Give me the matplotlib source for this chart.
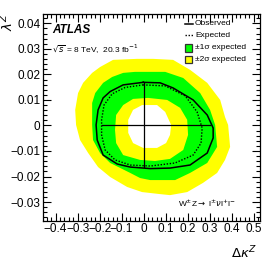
import matplotlib
matplotlib.use("Agg")
import matplotlib.pyplot as plt
from matplotlib.patches import Polygon, Rectangle
from matplotlib.ticker import MultipleLocator, FuncFormatter

plt.rcParams['font.family'] = ['Liberation Sans', 'DejaVu Sans']

# contours (delta kappa Z, lambda Z)
yellow_out_x = [-0.139, -0.030, 0.043, 0.134, 0.211, 0.289, 0.348, 0.370, 0.384, 0.393, 0.370, 0.334,
                0.270, 0.198, 0.120, 0.075, -0.007, -0.075, -0.152, -0.207, -0.252, -0.289, -0.307,
                -0.311, -0.298, -0.275, -0.234, -0.198]
yellow_out_y = [0.0257, 0.0261, 0.0261, 0.0257, 0.0218, 0.0167, 0.0100, 0.0033, 0.0002, -0.0084, -0.0135,
                -0.0186, -0.0225, -0.0261, -0.0273, -0.0269, -0.0261, -0.0241, -0.0202, -0.0163, -0.0108,
                -0.0057, 0.0002, 0.0061, 0.0127, 0.0167, 0.0206, 0.0229]

green_out_x = [-0.093, -0.039, 0.098, 0.180, 0.257, 0.302, 0.325, 0.334, 0.289, 0.211, 0.143, 0.030,
               -0.016, -0.061, -0.152, -0.198, -0.230, -0.234, -0.234, -0.220, -0.184, -0.143]
green_out_y = [0.0206, 0.0210, 0.0210, 0.0186, 0.0127, 0.0061, 0.0002, -0.0084, -0.0147, -0.0186, -0.0214,
               -0.0214, -0.0206, -0.0186, -0.0147, -0.0108, -0.0057, 0.0002, 0.0088, 0.0127, 0.0167, 0.0190]

green_in_x = [-0.093, -0.048, 0.020, 0.107, 0.166, 0.198, 0.202, 0.180, 0.120, 0.052, -0.016, -0.093,
              -0.125, -0.130, -0.125]
green_in_y = [0.0080, 0.0104, 0.0108, 0.0100, 0.0069, 0.0022, -0.0037, -0.0096, -0.0131, -0.0139, -0.0135,
              -0.0116, -0.0069, -0.0018, 0.0041]

yellow_in_x = [-0.048, -0.007, 0.061, 0.098, 0.125, 0.120, 0.102, 0.061, -0.002, -0.048, -0.070, -0.070]
yellow_in_y = [0.0061, 0.0080, 0.0080, 0.0053, 0.0002, -0.0037, -0.0069, -0.0088, -0.0088, -0.0069,
               -0.0029, 0.0022]

obs_x = [-0.002, 0.075, 0.134, 0.225, 0.289, 0.316, 0.316, 0.289, 0.211, 0.120, 0.030, -0.061, -0.120,
         -0.184, -0.211, -0.216, -0.207, -0.184, -0.152, -0.093]
obs_y = [0.0169, 0.0167, 0.0147, 0.0100, 0.0041, -0.0010, -0.0049, -0.0108, -0.0155, -0.0167, -0.0169,
         -0.0163, -0.0151, -0.0116, -0.0057, 0.0002, 0.0061, 0.0108, 0.0133, 0.0159]

exp_x = [-0.002, 0.098, 0.189, 0.243, 0.266, 0.261, 0.225, 0.143, 0.030, -0.061, -0.130, -0.175, -0.191,
         -0.191, -0.180, -0.143, -0.084]
exp_y = [0.0159, 0.0155, 0.0116, 0.0053, -0.0010, -0.0069, -0.0116, -0.0147, -0.0159, -0.0155, -0.0135,
         -0.0096, -0.0037, 0.0022, 0.0080, 0.0124, 0.0149]

# 1D limits drawn as a cross
dk_limits = [-0.190, 0.302]
lz_limits = [-0.0162, 0.0169]

fig = plt.figure(figsize=(2.74, 2.63), dpi=100)
ax = fig.add_axes([0.158, 0.161, 0.791, 0.786])

yellow = '#ffff00'
green = '#00ff00'
ax.add_patch(Polygon(list(zip(yellow_out_x, yellow_out_y)), closed=True, fc=yellow, ec='none'))
ax.add_patch(Polygon(list(zip(green_out_x, green_out_y)), closed=True, fc=green, ec='none'))
ax.add_patch(Polygon(list(zip(green_in_x, green_in_y)), closed=True, fc=yellow, ec='none'))
ax.add_patch(Polygon(list(zip(yellow_in_x, yellow_in_y)), closed=True, fc='white', ec='none'))

ax.plot(obs_x + obs_x[:1], obs_y + obs_y[:1], color='black', lw=1.1)
ax.plot(exp_x + exp_x[:1], exp_y + exp_y[:1], color='black', lw=1.0, ls=(0, (1, 1.2)))

ax.plot(dk_limits, [0, 0], color='black', lw=0.9)
ax.plot([0, 0], lz_limits, color='black', lw=0.9)

ax.set_xlim(-0.456, 0.529)
ax.set_ylim(-0.0373, 0.0437)

ax.xaxis.set_major_locator(MultipleLocator(0.1))
ax.xaxis.set_minor_locator(MultipleLocator(0.02))
ax.yaxis.set_major_locator(MultipleLocator(0.01))
ax.yaxis.set_minor_locator(MultipleLocator(0.002))


def fmt(v, pos):
    if abs(v) < 1e-9:
        return '0'
    s = ('%.1f' % v) if abs(v) >= 0.1 - 1e-9 else ('%.2f' % v)
    return s.replace('-', '\u2212')


ax.xaxis.set_major_formatter(FuncFormatter(fmt))
ax.yaxis.set_major_formatter(FuncFormatter(fmt))
ax.tick_params(which='both', direction='in', top=True, right=True, labelsize=8.5, pad=2)
ax.tick_params(which='major', length=6, width=0.8)
ax.tick_params(which='minor', length=3, width=0.8)
for s in ax.spines.values():
    s.set_linewidth(0.9)

fig.text(0.03, 0.916, r'$\lambda^{Z}$', rotation=90, ha='center', va='center', fontsize=9.5)
fig.text(0.938, 0.038, r'$\Delta\kappa^{Z}$', ha='right', va='center', fontsize=9.5)

ax.text(0.04, 0.923, 'ATLAS', transform=ax.transAxes, fontsize=8.5, fontweight='bold',
        fontstyle='italic', va='center')
ax.text(0.04, 0.830, r'$\sqrt{s}$ = 8 TeV,  20.3 fb$^{-1}$', transform=ax.transAxes, fontsize=6, va='center')
ax.text(0.62, 0.086, r'W$^{\pm}$Z$\rightarrow$ l$^{\pm}\nu$l$^{+}$l$^{-}$', transform=ax.transAxes,
        fontsize=6, va='center')

# legend drawn by hand
ax.plot([0.654, 0.691], [0.952, 0.952], transform=ax.transAxes, color='black', lw=1.1)
ax.plot([0.654, 0.691], [0.898, 0.898], transform=ax.transAxes, color='black', lw=1.0, ls=(0, (1, 1.2)))
ax.add_patch(Rectangle((0.654, 0.816), 0.032, 0.039, transform=ax.transAxes, fc=green, ec='#333333', lw=0.9))
ax.add_patch(Rectangle((0.654, 0.763), 0.032, 0.034, transform=ax.transAxes, fc=yellow, ec='#333333', lw=0.9))
for yy, lab in zip([0.952, 0.898, 0.836, 0.780],
                   ['Observed', 'Expected', '\u00b11\u03c3 expected', '\u00b12\u03c3 expected']):
    ax.text(0.700, yy, lab, transform=ax.transAxes, fontsize=6, va='center')

fig.savefig('out.png', dpi=100)
